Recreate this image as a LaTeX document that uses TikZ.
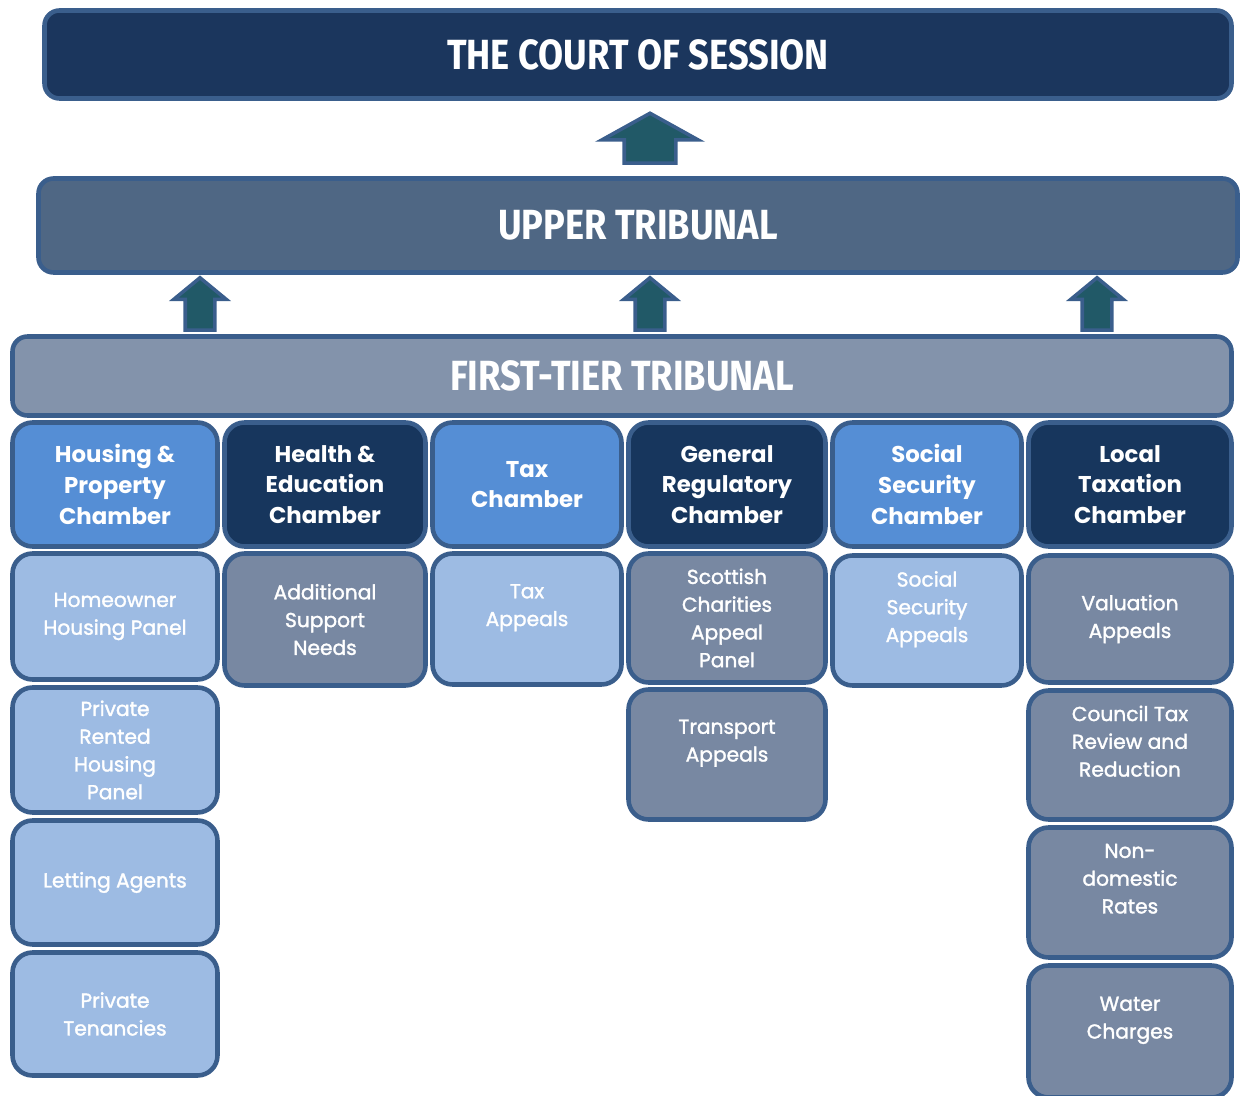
\documentclass[tikz,border=0pt]{standalone}
\usepackage{fontspec}
\setmainfont{Poppins}
\newfontfamily\titlefont[FakeStretch=0.86]{Fira Sans}
\newfontfamily\panelfont[FakeBold=1.6]{Poppins}
\usepackage{xcolor}
\usetikzlibrary{shapes.arrows}

\definecolor{bordure}{HTML}{3A5E8C}
\definecolor{courfond}{HTML}{1B365D}
\definecolor{upperfond}{HTML}{4F6784}
\definecolor{firstfond}{HTML}{8393AB}
\definecolor{bleumoyen}{HTML}{558ED5}
\definecolor{bleufonce}{HTML}{17365D}
\definecolor{bleuclair}{HTML}{9DBBE3}
\definecolor{grisbleu}{HTML}{7888A2}
\definecolor{flechefond}{HTML}{215967}

\begin{document}
\begin{tikzpicture}[
                boite/.style={draw=bordure, line width=2.6pt, rounded corners=0.4cm, text=white, align=center, inner sep=2pt},
                titre/.style={boite, rounded corners=0.3cm, font=\titlefont\bfseries\fontsize{24}{28}\selectfont},
                chambre/.style={boite, font=\bfseries\fontsize{13}{17.4}\selectfont},
                panneau/.style={boite, font=\panelfont\fontsize{11.5}{15.8}\selectfont},
                fleche/.style={single arrow, draw=bordure, fill=flechefond, line width=2pt, shape border rotate=90, inner ysep=0pt, single arrow head indent=0pt}
            ]
                \useasboundingbox (0,0) rectangle (24.82,-21.92);

                % Les trois niveaux
                \node[titre, fill=courfond, minimum width=23.74cm, minimum height=1.76cm] (court) at (12.76,-1.09) {THE COURT OF SESSION};
                \node[titre, fill=upperfond, minimum width=23.98cm, minimum height=1.88cm] (upper) at (12.76,-4.51) {UPPER TRIBUNAL};
                \node[titre, fill=firstfond, minimum width=24.38cm, minimum height=1.58cm] (first) at (12.44,-7.52) {FIRST-TIER TRIBUNAL};

                % Les chambres
                \node[chambre, fill=bleumoyen, minimum width=4.10cm, minimum height=2.48cm] (ch1) at (2.30,-9.69) {Housing \&\\Property\\Chamber};
                \node[chambre, fill=bleufonce, minimum width=4.02cm, minimum height=2.48cm] (ch2) at (6.50,-9.69) {Health \&\\Education\\Chamber};
                \node[chambre, fill=bleumoyen, minimum width=3.78cm, minimum height=2.48cm] (ch3) at (10.54,-9.69) {Tax\\Chamber};
                \node[chambre, fill=bleufonce, minimum width=3.94cm, minimum height=2.48cm] (ch4) at (14.54,-9.69) {General\\Regulatory\\Chamber};
                \node[chambre, fill=bleumoyen, minimum width=3.78cm, minimum height=2.48cm] (ch5) at (18.54,-9.69) {Social\\Security\\Chamber};
                \node[chambre, fill=bleufonce, minimum width=4.06cm, minimum height=2.48cm] (ch6) at (22.60,-9.69) {Local\\Taxation\\Chamber};

                % Housing & Property
                \node[panneau, fill=bleuclair, minimum width=4.10cm, minimum height=2.52cm] (p11) at (2.30,-12.33) {Homeowner\\Housing Panel};
                \node[panneau, fill=bleuclair, minimum width=4.10cm, minimum height=2.50cm] (p12) at (2.30,-15.00) {Private\\Rented\\Housing\\Panel};
                \node[panneau, fill=bleuclair, minimum width=4.10cm, minimum height=2.48cm] (p13) at (2.30,-17.65) {Letting Agents};
                \node[panneau, fill=bleuclair, minimum width=4.10cm, minimum height=2.46cm] (p14) at (2.30,-20.28) {Private\\Tenancies};

                % Health & Education, Tax
                \node[panneau, fill=grisbleu, minimum width=4.02cm, minimum height=2.64cm] (p21) at (6.50,-12.39) {Additional\\Support\\Needs};
                \node[panneau, fill=bleuclair, minimum width=3.78cm, minimum height=2.62cm] (p31) at (10.54,-12.38) {Tax\\Appeals\\~};

                % General Regulatory
                \node[panneau, fill=grisbleu, minimum width=3.94cm, minimum height=2.58cm] (p41) at (14.54,-12.36) {Scottish\\Charities\\Appeal\\Panel};
                \node[panneau, fill=grisbleu, minimum width=3.94cm, minimum height=2.60cm] (p42) at (14.54,-15.09) {Transport\\Appeals\\~};

                % Social Security
                \node[panneau, fill=bleuclair, minimum width=3.78cm, minimum height=2.60cm] (p51) at (18.54,-12.41) {Social\\Security\\Appeals\\~};

                % Local Taxation
                \node[panneau, fill=grisbleu, minimum width=4.06cm, minimum height=2.54cm] (p61) at (22.60,-12.38) {Valuation\\Appeals};
                \node[panneau, fill=grisbleu, minimum width=4.06cm, minimum height=2.58cm] (p62) at (22.60,-15.10) {Council Tax\\Review and\\Reduction\\~};
                \node[panneau, fill=grisbleu, minimum width=4.06cm, minimum height=2.60cm] (p63) at (22.60,-17.85) {Non-\\domestic\\Rates\\~};
                \node[panneau, fill=grisbleu, minimum width=4.06cm, minimum height=2.64cm] (p64) at (22.60,-20.63) {Water\\Charges\\~};

                % Fleches d'appel
                \node[fleche, inner xsep=0.48cm, minimum height=1.0cm, single arrow head extend=0.45cm, single arrow tip angle=122, anchor=tail] (a0) at (13.00,-3.30) {};
                \node[fleche, inner xsep=0.26cm, minimum height=1.05cm, single arrow head extend=0.23cm, single arrow tip angle=101, anchor=tail] (a1) at (4.00,-6.64) {};
                \node[fleche, inner xsep=0.26cm, minimum height=1.05cm, single arrow head extend=0.23cm, single arrow tip angle=101, anchor=tail] (a2) at (13.00,-6.64) {};
                \node[fleche, inner xsep=0.26cm, minimum height=1.05cm, single arrow head extend=0.23cm, single arrow tip angle=101, anchor=tail] (a3) at (21.94,-6.64) {};
            \end{tikzpicture}
\end{document}
